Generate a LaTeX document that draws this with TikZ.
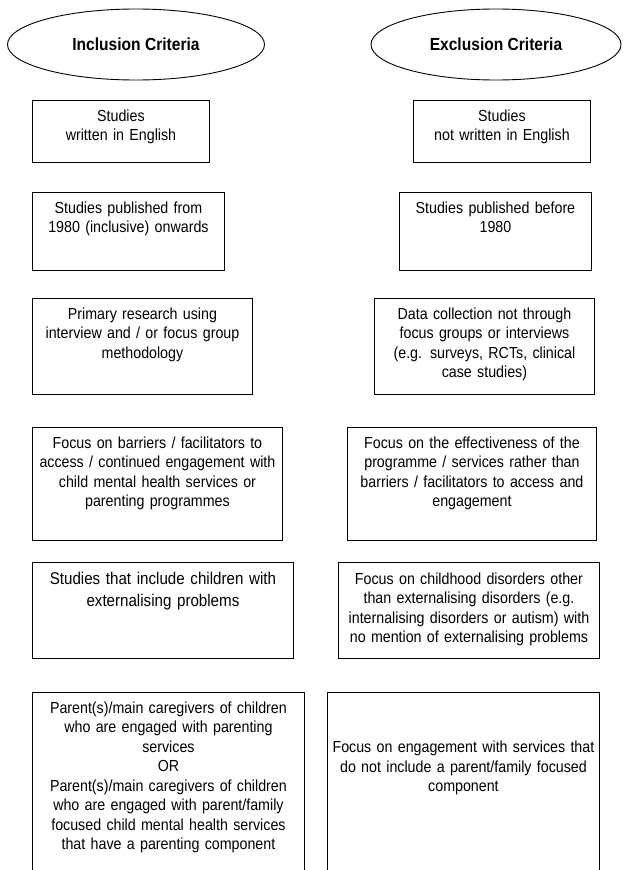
\documentclass[tikz,border=0pt]{standalone}
\usepackage{fontspec}
\newfontfamily\critfont[FakeStretch=0.89]{Liberation Sans}
\tikzset{
  crit/.style={draw, line width=0.9pt, rectangle, anchor=north west, align=center,
    inner xsep=3pt, inner ysep=0pt, text height=21pt,
    font={\critfont\fontsize{16}{19.5}\selectfont}},
  critbig/.style={crit, text height=22.5pt,
    font={\critfont\fontsize{17}{21.5}\selectfont}},
  head/.style={draw, line width=0.9pt, ellipse, inner sep=0pt, minimum height=71pt,
    font={\critfont\bfseries\fontsize{17.5}{20}\selectfont}}
}
\usetikzlibrary{shapes.geometric}
\begin{document}
\begin{tikzpicture}[x=1pt, y=-1pt]
  \useasboundingbox (0,0) rectangle (623,870);
  \node[head, minimum width=257pt] (inc) at (136,44.5) {Inclusion Criteria};
  \node[head, minimum width=250pt] (exc) at (496,44.5) {Exclusion Criteria};

  \node[crit, text width=171pt, text depth=41pt] (inc1) at (32,100)
    {Studies\\written in English};
  \node[crit, text width=171pt, text depth=41pt] (exc1) at (413,100)
    {Studies\\not written in English};

  \node[crit, text width=186pt, text depth=57pt] (inc2) at (32,192)
    {Studies published from\\1980 (inclusive) onwards};
  \node[crit, text width=186pt, text depth=57pt] (exc2) at (399,192)
    {Studies published before\\1980};

  \node[crit, text width=214pt, text depth=75pt] (inc3) at (32,298)
    {Primary research using\\interview and / or focus group\\methodology};
  \node[crit, text width=214pt, text depth=75pt] (exc3) at (374,298)
    {Data collection not through\\focus groups or interviews\\(e.g. surveys, RCTs, clinical\\case studies)};

  \node[crit, text width=244pt, text depth=92pt] (inc4) at (32,427)
    {Focus on barriers / facilitators to\\access / continued engagement with\\child mental health services or\\parenting programmes};
  \node[crit, text width=243pt, text depth=92pt] (exc4) at (347,427)
    {Focus on the effectiveness of the\\programme / services rather than\\barriers / facilitators to access and\\engagement};

  \node[critbig, text width=255pt, text depth=73.5pt] (inc5) at (32,562)
    {Studies that include children with\\externalising problems};
  \node[crit, text width=255pt, text height=22pt, text depth=74pt] (exc5) at (338,562)
    {Focus on childhood disorders other\\than externalising disorders (e.g.\\internalising disorders or autism) with\\no mention of externalising problems};

  \node[crit, text width=266pt, text depth=179pt] (inc6) at (32,692)
    {Parent(s)/main caregivers of children\\who are engaged with parenting\\services\\OR\\Parent(s)/main caregivers of children\\who are engaged with parent/family\\focused child mental health services\\that have a parenting component};
  \node[crit, text width=266pt, text height=60.5pt, text depth=139.5pt] (exc6) at (327,692)
    {Focus on engagement with services that\\do not include a parent/family focused\\component};
\end{tikzpicture}
\end{document}
